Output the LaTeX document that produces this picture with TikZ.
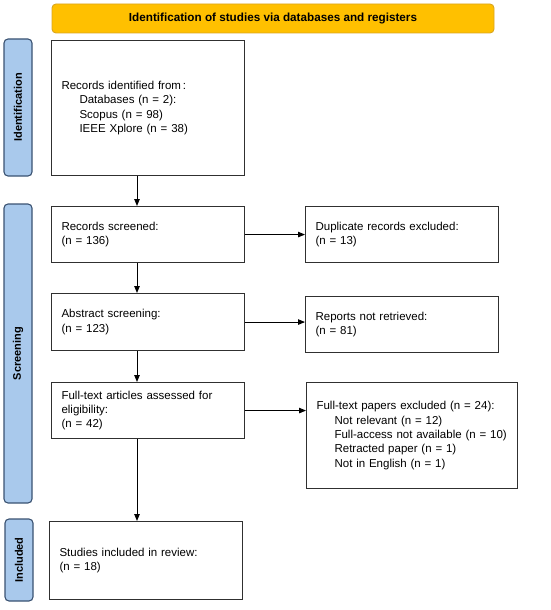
\documentclass[tikz,border=0pt]{standalone}
\usepackage{fontspec}
\setmainfont{Liberation Sans}
\usetikzlibrary{arrows.meta}
\definecolor{bannerfill}{HTML}{FFC000}
\definecolor{bannerdraw}{HTML}{D9A520}
\definecolor{sidefill}{HTML}{A9C9EC}
\definecolor{sidedraw}{HTML}{3A5272}
\definecolor{boxdraw}{HTML}{303030}
\begin{document}
\begin{tikzpicture}[x=1pt,y=-1pt,
  box/.style={draw=boxdraw, line width=1.1pt, fill=white, anchor=north west,
    inner xsep=10pt, inner ysep=2pt, align=left,
    font=\fontsize{11.5}{14.3}\selectfont},
  side/.style={draw=sidedraw, line width=1.1pt, fill=sidefill, rounded corners=4pt,
    rotate=90, minimum height=28pt, inner sep=0pt,
    font=\fontsize{11}{13}\selectfont\bfseries},
  banner/.style={draw=bannerdraw, line width=0.9pt, fill=bannerfill, rounded corners=4pt,
    minimum width=442pt, minimum height=29pt, inner sep=0pt,
    font=\fontsize{11.7}{14}\selectfont\bfseries},
  arr/.style={-{Triangle[length=7pt,width=5.5pt]}, line width=0.9pt, draw=black}
]
\useasboundingbox (0,0) rectangle (550,610);
\node[banner] (ban) at (273,18.5) {Identification of studies via databases and registers};

\node[side, minimum width=137pt] (sid) at (18,107.5) {Identification};
\node[side, minimum width=299pt] (sscr) at (18,353.5) {Screening};
\node[side, minimum width=82pt] (sinc) at (19,560) {Included};

\node[box, minimum width=193pt, minimum height=135pt, text width=173pt] (rec) at (51,40)
  {Records identified from\,:\\\hspace*{18pt}Databases (n = 2):\\\hspace*{18pt}Scopus (n = 98)\\\hspace*{18pt}IEEE Xplore (n = 38)};
\node[box, minimum width=193pt, minimum height=56pt, text width=173pt] (scr) at (51,206)
  {Records screened:\\(n = 136)};
\node[box, minimum width=193pt, minimum height=56pt, text width=173pt] (dup) at (305,206)
  {Duplicate records excluded:\\(n = 13)};
\node[box, minimum width=193pt, minimum height=57pt, text width=173pt] (abs) at (51,293)
  {Abstract screening:\\(n = 123)};
\node[box, minimum width=193pt, minimum height=56pt, text width=173pt] (rep) at (305,296)
  {Reports not retrieved:\\(n = 81)};
\node[box, minimum width=193pt, minimum height=56pt, text width=173pt] (ft) at (51,382)
  {Full-text articles assessed for\\eligibility:\\(n = 42)};
\node[box, minimum width=211pt, minimum height=106pt, text width=191pt] (exc) at (306,382)
  {Full-text papers excluded (n = 24):\\\hspace*{18pt}Not relevant (n = 12)\\\hspace*{18pt}\mbox{Full-access not available (n = 10)}\\\hspace*{18pt}Retracted paper (n = 1)\\\hspace*{18pt}Not in English (n = 1)};
\node[box, minimum width=193pt, minimum height=78pt, text width=173pt] (inc) at (49,521)
  {Studies included in review:\\(n = 18)};

\coordinate (cx) at (137,0);
\draw[arr] (rec.south -| cx) -- (scr.north -| cx);
\draw[arr] (scr.south -| cx) -- (abs.north -| cx);
\draw[arr] (abs.south -| cx) -- (ft.north -| cx);
\draw[arr] (ft.south -| cx) -- (inc.north -| cx);
\draw[arr] (scr.east) -- (dup.west |- scr.east);
\draw[arr] (abs.east) -- (rep.west |- abs.east);
\draw[arr] (ft.east) -- (exc.west |- ft.east);
\end{tikzpicture}
\end{document}
